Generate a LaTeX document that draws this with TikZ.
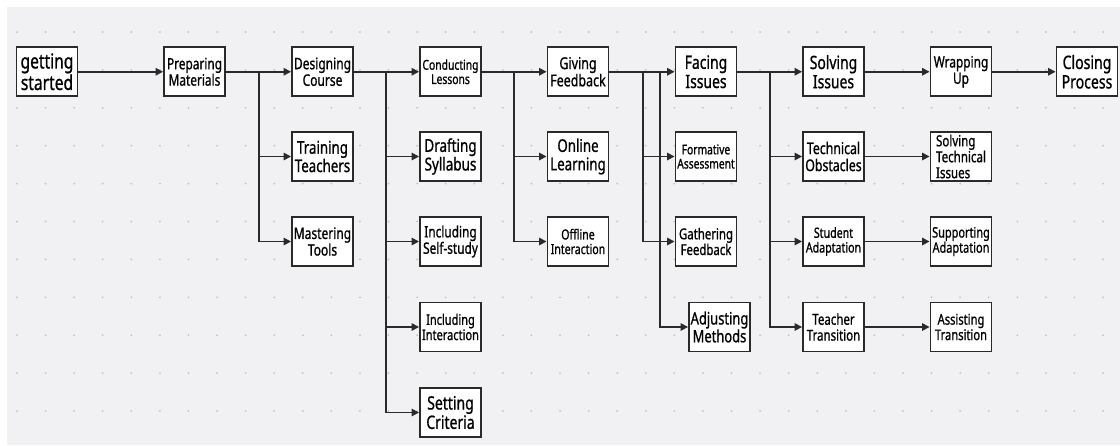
\documentclass[tikz,border=0pt]{standalone}
\usepackage{fontspec}
\setmainfont[FakeStretch=0.76,FakeBold=0.9]{Noto Sans}
\usetikzlibrary{arrows.meta}
\definecolor{bg}{HTML}{F1F1F3}
\definecolor{dotc}{HTML}{C2C2C6}
\definecolor{lnc}{HTML}{2A2A2A}
\newcommand\fs[1]{\fontsize{#1pt}{1.05\dimexpr#1pt\relax}\selectfont}
\begin{document}
\begin{tikzpicture}[x=1pt,y=-1pt,
 box/.style={draw=lnc, line width=1.9pt, fill=white, minimum width=61pt, minimum height=49pt, inner sep=0pt, align=center},
 arr/.style={draw=lnc, line width=1.6pt, -{Triangle[length=7.5pt,width=7.5pt]}}]
\useasboundingbox (0,0) rectangle (1120,445);
\fill[white] (0,0) rectangle (1120,445);
\fill[bg] (7,7) rectangle (1120,445);
\foreach \i in {0,...,38} \foreach \j in {0,...,10} \fill[dotc] (17+\i*28.58, 32+\j*37.9) circle (1pt);
% row 1
\node[box, font=\fs{20.5}] (gs) at (47,71.75) {getting\\started};
\node[box, font=\fs{15.6}] (pm) at (194.5,71.75) {Preparing\\Materials};
\node[box, font=\fs{15.8}] (dc) at (322.5,71.75) {Designing\\Course};
\node[box, font=\fs{13.6}] (cl) at (450.5,71.75) {Conducting\\Lessons};
\node[box, font=\fs{16.4}] (gf) at (578,71.75) {Giving\\Feedback};
\node[box, font=\fs{18.3}] (fi) at (706,71.75) {Facing\\Issues};
\node[box, font=\fs{18.3}] (si) at (833.5,71.75) {Solving\\Issues};
\node[box, font=\fs{15.6}] (wu) at (961,71.75) {Wrapping\\Up};
\node[box, font=\fs{18.5}] (cp) at (1087,71.75) {Closing\\Process};
% row 2
\node[box, font=\fs{17.5}] (tt) at (322.5,156.5) {Training\\Teachers};
\node[box, font=\fs{17.7}] (ds) at (450.5,156.5) {Drafting\\Syllabus};
\node[box, font=\fs{17.5}] (ol) at (578,156.5) {Online\\Learning};
\node[box, font=\fs{13.5}] (fa) at (706,156.5) {Formative\\Assessment};
\node[box, font=\fs{16.2}] (to) at (833.5,156.5) {Technical\\Obstacles};
\node[box, font=\fs{15.2}, align=left] (sti) at (961,156.5) {\fontsize{15.2pt}{14.6pt}\selectfont Solving\\Technical\\Issues};
% row 3
\node[box, font=\fs{15.8}] (mt) at (322.5,241.5) {Mastering\\Tools};
\node[box, font=\fs{15.6}] (is) at (450.5,241.5) {Including\\Self-study};
\node[box, font=\fs{13.9}] (oi) at (578,241.5) {Offline\\Interaction};
\node[box, font=\fs{15}] (gaf) at (706,241.5) {Gathering\\Feedback};
\node[box, font=\fs{14}] (sa) at (833.5,241.5) {Student\\Adaptation};
\node[box, font=\fs{14.4}] (spa) at (961,241.5) {Supporting\\Adaptation};
% row 4
\node[box, font=\fs{14.5}] (ii) at (450.5,327) {Including\\Interaction};
\node[box, font=\fs{17}] (am) at (719.5,327) {Adjusting\\Methods};
\node[box, font=\fs{15.1}] (ttr) at (833.5,327) {Teacher\\Transition};
\node[box, font=\fs{14.7}] (atr) at (961,327) {Assisting\\Transition};
% row 5
\node[box, font=\fs{18.4}] (sc) at (450.5,412.5) {Setting\\Criteria};
% junctions
\coordinate (j1) at (259,71.75);
\coordinate (j2) at (386,71.75);
\coordinate (j3) at (514,71.75);
\coordinate (j4) at (643,71.75);
\coordinate (j5) at (660,71.75);
\coordinate (j6) at (770,71.75);
% main line
\draw[arr] (gs) -- (pm);
\draw[arr] (pm) -- (dc);
\draw[arr] (dc) -- (cl);
\draw[arr] (cl) -- (gf);
\draw[arr] (gf) -- (fi);
\draw[arr] (fi) -- (si);
\draw[arr] (si) -- (wu);
\draw[arr] (wu) -- (cp);
% branches
\draw[arr] (j1) |- (tt.west);
\draw[arr] (j1) |- (mt.west);
\draw[arr] (j2) |- (ds.west);
\draw[arr] (j2) |- (is.west);
\draw[arr] (j2) |- (ii.west);
\draw[arr] (j2) |- (sc.west);
\draw[arr] (j3) |- (ol.west);
\draw[arr] (j3) |- (oi.west);
\draw[arr] (j4) |- (fa.west);
\draw[arr] (j4) |- (gaf.west);
\draw[arr] (j5) |- (am.west);
\draw[arr] (j6) |- (to.west);
\draw[arr] (j6) |- (sa.west);
\draw[arr] (j6) |- (ttr.west);
% second level
\draw[arr] (to) -- (sti);
\draw[arr] (sa) -- (spa);
\draw[arr] (ttr) -- (atr);
\end{tikzpicture}
\end{document}
